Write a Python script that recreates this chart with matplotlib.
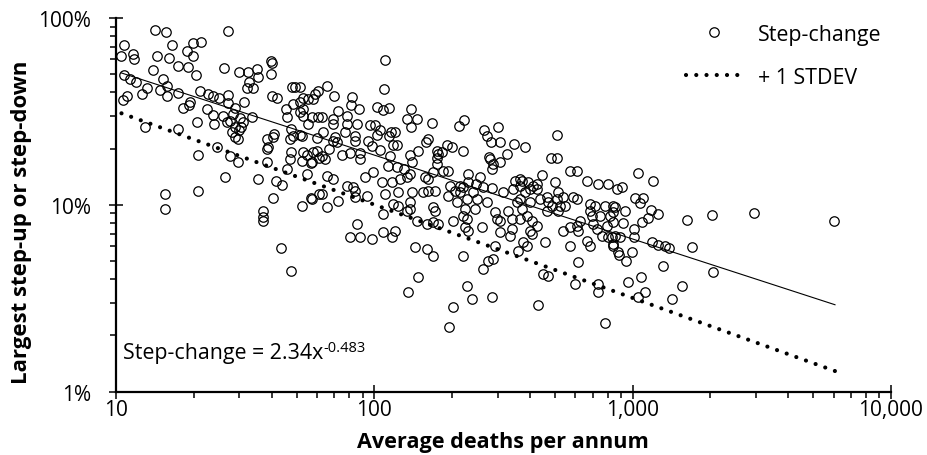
import matplotlib
matplotlib.use('Agg')
import matplotlib.pyplot as plt
from matplotlib.ticker import FixedLocator, FixedFormatter, NullFormatter

plt.rcParams['font.family'] = ['Open Sans', 'DejaVu Sans']

# average deaths per annum (x) and largest step-change in % (y)
avg_deaths = [
  14.2, 15.6, 27.2, 10.7, 16.5, 19.9, 21.3, 10.5, 11.6, 11.7, 14.4, 16.0, 18.8, 19.9, 17.4, 19.0, 20.4, 13.9,
  26.2, 29.9, 32.5, 35.2, 39.8, 40.2, 39.8, 35.5, 32.7, 33.9, 32.2, 10.7, 11.3, 11.9, 13.2, 12.6, 15.2, 15.7,
  14.8, 15.7, 17.4, 11.0, 10.6, 21.1, 22.7, 23.7, 25.1, 27.2, 19.3, 19.2, 18.2, 22.5, 23.7, 26.0, 27.2, 28.9,
  31.3, 40.2, 42.0, 28.4, 27.6, 30.2, 33.6, 20.6, 24.0, 26.9, 28.9, 30.5, 28.1, 28.9, 29.9, 29.7, 13.0, 17.4,
  20.8, 24.6, 27.6, 38.4, 40.6, 38.8, 40.9, 45.5, 48.4, 45.9, 47.6, 48.4, 47.2, 51.5, 48.0, 49.3, 52.9, 55.3,
  58.9, 57.9, 60.5, 52.9, 57.4, 60.5, 55.3, 52.5, 60.0, 47.6, 52.9, 57.9,
  110, 109, 65.6, 69.8, 51.5, 82.0, 81.3, 87.3, 102, 108, 114, 139, 134, 146, 139, 167, 213, 222, 266, 273,
  283, 307, 301, 348, 383, 510, 72.3, 78.4, 62.8, 69.2, 69.2, 63.3, 85.7, 78.4, 77.1, 84.2, 96.2, 100.7, 105,
  102, 116, 120, 118, 122, 94.6, 98.0, 105, 84.2, 70.5, 69.2, 66.8, 60.0, 62.8, 75.0, 80.5, 88.1, 115, 137,
  148, 159, 161, 175, 183, 191, 200, 221, 278, 326, 483, 510,
  176, 281, 57.4, 52.5, 64.4, 113, 122, 140, 175, 288, 307, 137, 157, 161, 169, 185, 193, 231, 231, 257, 286,
  351, 373, 412, 446, 501, 572, 609, 666, 735, 803, 871, 54.8, 65.6, 69.2, 92.0, 98.9, 107, 117, 134, 78.4,
  84.2, 84.2, 72.3, 62.8, 57.4, 52.5, 65.6, 93.7, 110, 124, 140, 161, 172, 196, 205, 215, 241, 193, 209, 228,
  250, 273, 315, 344, 366, 401, 427, 438, 366, 357, 401, 470, 514, 538, 588, 609, 487, 548, 684, 715, 782,
  855, 840, 108, 124, 134, 137, 169, 172, 176, 202, 224, 231, 228, 261, 299, 307, 341, 366, 390, 408, 427,
  466, 514, 538, 572, 609, 626, 684, 748, 818, 728, 762, 803, 855, 666, 684, 840, 878, 458, 408, 376, 390,
  360, 293, 288, 276, 264, 221, 169, 160, 146, 117, 120, 108, 98.0, 88.1, 80.5, 85.7, 144, 160, 169, 148,
  135, 228, 239, 286, 202, 430, 450, 470, 598, 615, 735, 735, 572,
  1049, 1200, 910, 1021, 1097, 1069, 840, 935, 1178, 1254, 1148, 1087, 840, 918, 1625, 2030, 2951, 6026,
  1012, 1012, 832, 840, 1189, 1254, 1336, 1384, 1699, 995, 885, 943, 1312, 2048, 1079, 960, 1554, 1117,
  1049, 1422, 195, 782,
  15.5, 15.5, 20.8, 26.4, 35.5, 41.6, 43.9, 45.9, 29.7, 38.4, 56.9, 61.1, 38.4, 40.6, 56.9, 61.1, 37.1,
  37.1, 37.1, 43.5, 47.6,
  51.5, 114, 71.7, 175, 54.8, 88.1, 130, 221, 126, 82.8, 154, 137, 118, 247, 215, 264, 286, 366, 395, 427,
  383, 466, 510, 523, 224, 221, 245, 293, 329, 341, 373, 697, 702, 795, 892, 334, 307, 401, 615, 31.0, 51.5,
  52.9, 47.2,
]
step_change_pct = [
  86.3, 84.1, 85.2, 71.6, 71.6, 73.5, 74.4, 62.6, 64.2, 60.4, 62.6, 61.1, 66.6, 62.6, 55.3, 54.7, 49.5, 52.7,
  54.0, 51.4, 51.4, 53.3, 58.9, 57.4, 50.1, 48.3, 45.4, 42.2, 42.2, 49.5, 47.1, 45.4, 42.2, 39.2, 47.1, 43.2,
  41.2, 38.2, 39.7, 38.2, 36.4, 40.7, 39.2, 38.2, 37.3, 38.7, 35.5, 34.2, 33.0, 32.6, 30.3, 29.9, 35.1, 33.0,
  35.5, 38.2, 37.3, 30.6, 28.1, 29.2, 29.5, 27.8, 27.1, 27.8, 26.1, 26.1, 24.5, 23.1, 25.1, 22.5, 26.1, 25.4,
  18.5, 20.4, 18.3, 22.5, 23.1, 20.4, 23.9, 32.6, 34.6, 29.5, 25.4, 23.4, 22.5, 23.7, 42.7, 42.7, 37.3, 36.8,
  39.2, 36.8, 40.7, 29.9, 29.5, 29.5, 27.1, 23.4, 22.8, 19.2, 19.2, 19.2,
  59.6, 41.7, 43.2, 38.2, 42.7, 37.8, 34.2, 32.6, 33.4, 32.2, 33.0, 32.6, 28.8, 28.8, 26.1, 27.4, 26.4, 28.4,
  25.1, 23.4, 21.7, 21.7, 26.1, 21.2, 20.4, 23.7, 31.8, 29.9, 29.5, 28.8, 27.1, 24.5, 27.1, 27.1, 24.5, 23.4,
  26.7, 26.7, 25.1, 23.7, 24.5, 24.5, 20.9, 20.9, 22.0, 20.6, 19.7, 22.0, 23.1, 22.0, 19.9, 19.4, 18.3, 18.5,
  18.9, 18.9, 18.3, 18.5, 19.4, 21.7, 22.5, 19.4, 19.2, 20.9, 20.4, 19.4, 18.0, 18.7, 17.8, 17.8,
  18.7, 17.6, 16.9, 17.2, 17.6, 16.1, 15.9, 16.9, 16.5, 16.5, 16.9, 14.6, 14.1, 13.7, 15.0, 15.2, 15.2, 14.6,
  13.2, 14.1, 15.5, 13.4, 13.4, 12.6, 14.4, 13.2, 15.2, 15.2, 13.4, 12.9, 12.9, 12.2, 14.6, 14.3, 13.7, 14.1,
  15.0, 13.2, 13.2, 14.1, 12.6, 11.9, 11.0, 10.5, 11.4, 10.7, 9.85, 9.73, 11.1, 11.4, 11.7, 11.7, 11.9, 11.9,
  12.6, 11.9, 11.7, 11.7, 11.1, 10.4, 10.7, 10.7, 10.4, 11.7, 12.2, 12.6, 12.2, 12.2, 10.7, 10.7, 10.4, 10.4,
  10.4, 11.7, 11.0, 11.0, 10.7, 9.85, 9.85, 10.1, 9.85, 9.85, 9.73, 9.15, 8.93, 9.85, 9.27, 9.50, 9.73, 9.27,
  7.89, 8.19, 7.61, 7.24, 8.40, 7.61, 8.40, 8.19, 7.42, 8.40, 8.71, 8.19, 7.70, 9.27, 9.27, 7.24, 7.61, 7.70,
  8.19, 9.27, 8.71, 8.71, 7.42, 6.81, 6.73, 6.81, 6.40, 6.02, 6.02, 5.59, 6.32, 6.98, 6.32, 6.02, 5.66, 6.02,
  5.13, 5.00, 4.53, 5.32, 8.09, 7.89, 8.19, 6.73, 7.24, 7.15, 6.56, 6.73, 6.73, 7.89, 5.94, 5.80, 5.32, 4.11,
  3.41, 3.67, 3.13, 3.21, 2.84, 2.91, 4.26, 4.16, 3.77, 4.94, 3.77, 3.41, 6.02,
  14.8, 13.4, 12.5, 10.9, 10.9, 10.2, 9.85, 9.27, 9.38, 8.93, 8.50, 8.09, 8.09, 7.99, 8.29, 8.82, 9.04, 8.19,
  7.42, 6.73, 6.73, 6.17, 6.32, 6.09, 6.02, 5.87, 5.94, 5.59, 5.38, 5.00, 4.70, 4.37, 4.11, 3.86, 3.67, 3.41,
  3.21, 3.13, 2.22, 2.33,
  11.4, 9.50, 11.9, 14.1, 13.7, 13.4, 12.8, 15.5, 16.9, 16.9, 16.7, 17.8, 19.9, 10.9, 10.9, 11.4, 9.27,
  8.60, 8.19, 5.87, 4.42,
  31.4, 23.4, 21.7, 17.8, 18.5, 17.6, 15.5, 12.5, 13.7, 12.5, 11.7, 10.3, 10.1, 12.9, 12.6, 12.5, 12.3, 13.7,
  13.2, 12.9, 11.7, 11.0, 10.7, 9.85, 9.50, 8.71, 9.50, 9.15, 9.27, 8.40, 9.50, 8.71, 7.89, 7.70, 6.73, 6.81,
  7.15, 7.24, 7.24, 27.8, 35.5, 32.6, 17.6,
]

# power-law trend and +1 stdev line, end points
line_deaths = [10.5, 6070]
trend_pct = [50.8, 2.92]
stdev_pct = [30.9, 1.29]

x_ticks = [10, 100, 1000, 10000]
x_tick_labels = ['10', '100', '1,000', '10,000']
y_ticks = [1, 10, 100]
y_tick_labels = ['1%', '10%', '100%']

W, H = 928, 456
fig = plt.figure(figsize=(W / 100, H / 100), dpi=100)
ax = fig.add_axes([116 / W, 1 - 392.7 / H, (891 - 116) / W, (392.7 - 19) / H])
ax.set_xscale('log')
ax.set_yscale('log')

pts, = ax.plot(avg_deaths, step_change_pct, 'o', ms=6.8, mfc='none', mec='black', mew=0.9,
               label='Step-change', clip_on=False)
ax.plot(line_deaths, trend_pct, '-', color='black', lw=0.8)
sd, = ax.plot(line_deaths, stdev_pct, color='black', lw=3.0, linestyle=(0, (0.01, 2.45)),
              dash_capstyle='round', label='+ 1 STDEV')

ax.set_xlim(10, 10000)
ax.set_ylim(1, 100)
ax.xaxis.set_major_locator(FixedLocator(x_ticks))
ax.xaxis.set_major_formatter(FixedFormatter(x_tick_labels))
ax.yaxis.set_major_locator(FixedLocator(y_ticks))
ax.yaxis.set_major_formatter(FixedFormatter(y_tick_labels))
ax.xaxis.set_minor_formatter(NullFormatter())
ax.yaxis.set_minor_formatter(NullFormatter())

for side in ['top', 'right']:
  ax.spines[side].set_visible(False)
for side in ['left', 'bottom']:
  ax.spines[side].set_linewidth(1.6)
ax.tick_params(which='major', direction='inout', length=10, width=1.1, labelsize=15)
ax.tick_params(axis='x', which='major', pad=0)
ax.tick_params(axis='y', which='major', pad=13)
ax.tick_params(which='minor', direction='out', length=4, width=1.1)

fig.text(22 / W, 1 - 222 / H, 'Largest step-up or step-down', rotation=90, ha='center', va='center',
         fontsize=16, fontweight='bold')
fig.text(503 / W, 1 - 443 / H, 'Average deaths per annum', ha='center', va='center',
         fontsize=15.6, fontweight='bold')
eq = fig.text(123 / W, 1 - 353 / H, 'Step-change = 2.34x', ha='left', va='center', fontsize=15.4)
ax.annotate('-0.483', xy=(1, 0.36), xycoords=eq, ha='left', va='bottom', fontsize=10.5)

ax.legend(handles=[pts, sd], frameon=False, loc='upper left', bbox_to_anchor=(686 / W, 1 - 24.5 / H),
          bbox_transform=fig.transFigure, borderpad=0, borderaxespad=0, handlelength=2.66,
          handletextpad=0.7, labelspacing=1.03, numpoints=1, fontsize=15.4)

fig.savefig('out.png', dpi=100)
